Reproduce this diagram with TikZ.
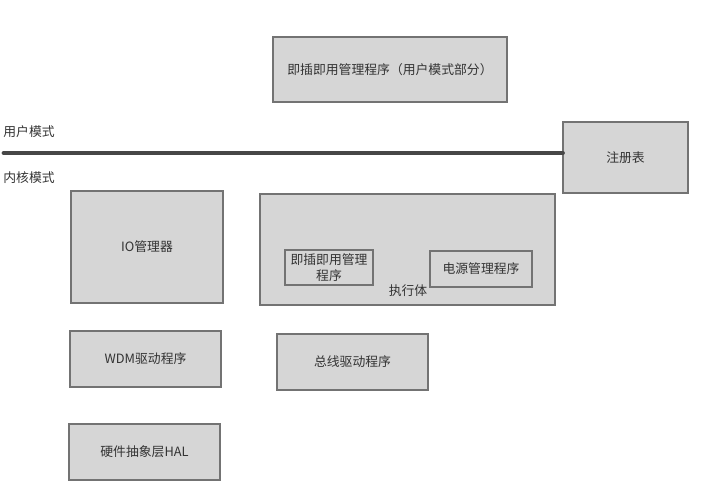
\documentclass[tikz,border=0pt]{standalone}
\usepackage{fontspec}
\setmainfont{Noto Sans CJK SC}
\begin{document}
\begin{tikzpicture}[
        x=0.02cm, y=-0.02cm,
        every node/.style={font=\fontsize{7.3}{9.5}\selectfont, text=black!80, inner sep=0pt},
        box/.style={draw=black!55, fill=black!16, line width=0.6pt},
        subbox/.style={draw=black!55, line width=0.6pt, align=center},
        modelabel/.style={anchor=west},
        modeline/.style={draw=black!72, line width=2.8pt, line cap=round},
    ]
    \useasboundingbox (0,0) rectangle (706,488);
    % user mode
    \node[box, minimum width=234*0.02cm, minimum height=65*0.02cm](pnpuser) at (390,69.5){即插即用管理程序（用户模式部分）};
    \node[box, minimum width=125*0.02cm, minimum height=71*0.02cm](registry) at (625.5,157.5){注册表};
    \node[modelabel](usermode) at (3,132){用户模式};
    \node[modelabel](kernelmode) at (3,178){内核模式};
    \coordinate (lineleft) at (4,153);
    \draw[modeline] (lineleft) -- (registry.west |- lineleft);
    % kernel mode
    \node[box, minimum width=152*0.02cm, minimum height=112*0.02cm](iomgr) at (147,247){IO管理器};
    \node[box, minimum width=295*0.02cm, minimum height=111*0.02cm](executive) at (407.5,249.5){};
    \node[subbox, minimum width=88*0.02cm, minimum height=35*0.02cm](pnpkernel) at (329,267.5){即插即用管理\\程序};
    \node[subbox, minimum width=102*0.02cm, minimum height=36*0.02cm](power) at (481,269){电源管理程序};
    \node(execlabel) at (408,291){执行体};
    \node[box, minimum width=151*0.02cm, minimum height=56*0.02cm](wdm) at (145.5,359){WDM驱动程序};
    \node[box, minimum width=151*0.02cm, minimum height=56*0.02cm](bus) at (352.5,362){总线驱动程序};
    \node[box, minimum width=151*0.02cm, minimum height=56*0.02cm](hal) at (144.5,452){硬件抽象层HAL};
\end{tikzpicture}
\end{document}
